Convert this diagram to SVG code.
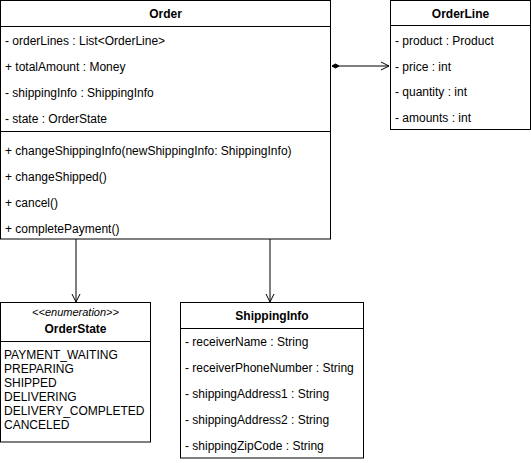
<svg xmlns="http://www.w3.org/2000/svg" width="531" height="463" viewBox="0 0 531 463">
<defs>
<style>
.box{fill:#fff;stroke:#000;stroke-width:1}
.ln{stroke:#000;stroke-width:1;fill:none}
text{font-family:"Liberation Sans",Arial,Helvetica,sans-serif;font-size:12px;fill:#000}
.t{font-weight:bold;text-anchor:middle}
.st{font-style:italic;font-size:11px;text-anchor:middle}
</style>
<marker id="open" markerWidth="10" markerHeight="10" refX="9" refY="5" orient="auto" markerUnits="userSpaceOnUse">
<path d="M1,1 L9,5 L1,9" fill="none" stroke="#000" stroke-width="1"/>
</marker>
<marker id="dia" markerWidth="10" markerHeight="8" refX="1" refY="4" orient="auto" markerUnits="userSpaceOnUse">
<path d="M1,4 L4.5,2 L8,4 L4.5,6 Z" fill="#000" stroke="#000"/>
</marker>
</defs>
<g id="connectors">
<line class="ln" x1="332" y1="66" x2="389" y2="66" marker-start="url(#dia)" marker-end="url(#open)"/>
<line class="ln" x1="76" y1="239" x2="76" y2="302" marker-end="url(#open)"/>
<line class="ln" x1="270" y1="239" x2="270" y2="302" marker-end="url(#open)"/>
</g>
<g id="Order">
<rect class="box" x="0.5" y="0.5" width="330" height="238.5"/>
<line class="ln" x1="0.5" y1="26.5" x2="330.5" y2="26.5"/>
<line class="ln" x1="0.5" y1="131.5" x2="330.5" y2="131.5"/>
<text class="t" x="165.5" y="18">Order</text>
<text x="5" y="45">- orderLines : List&lt;OrderLine&gt;</text>
<text x="5" y="71">+ totalAmount : Money</text>
<text x="5" y="97">- shippingInfo : ShippingInfo</text>
<text x="5" y="123">- state : OrderState</text>
<text x="5" y="155">+ changeShippingInfo(newShippingInfo: ShippingInfo)</text>
<text x="5" y="181">+ changeShipped()</text>
<text x="5" y="207">+ cancel()</text>
<text x="5" y="233">+ completePayment()</text>
</g>
<g id="OrderLine">
<rect class="box" x="390.5" y="0.5" width="140" height="129"/>
<line class="ln" x1="390.5" y1="25.5" x2="530.5" y2="25.5"/>
<text class="t" x="460.5" y="18">OrderLine</text>
<text x="395" y="45">- product : Product</text>
<text x="395" y="71">- price : int</text>
<text x="395" y="96">- quantity : int</text>
<text x="395" y="122">- amounts : int</text>
</g>
<g id="OrderState">
<rect class="box" x="0.5" y="302.5" width="150" height="139.5"/>
<line class="ln" x1="0.5" y1="341.5" x2="150.5" y2="341.5"/>
<text class="st" x="75.5" y="316">&lt;&lt;enumeration&gt;&gt;</text>
<text class="t" x="75.5" y="333">OrderState</text>
<text x="4" y="359">PAYMENT_WAITING</text>
<text x="4" y="373">PREPARING</text>
<text x="4" y="387">SHIPPED</text>
<text x="4" y="401">DELIVERING</text>
<text x="4" y="415">DELIVERY_COMPLETED</text>
<text x="4" y="429">CANCELED</text>
</g>
<g id="ShippingInfo">
<rect class="box" x="180.5" y="302.5" width="183" height="155.5"/>
<line class="ln" x1="180.5" y1="328.5" x2="363.5" y2="328.5"/>
<text class="t" x="272" y="320">ShippingInfo</text>
<text x="185" y="346">- receiverName : String</text>
<text x="185" y="372">- receiverPhoneNumber : String</text>
<text x="185" y="398">- shippingAddress1 : String</text>
<text x="185" y="424">- shippingAddress2 : String</text>
<text x="185" y="450">- shippingZipCode : String</text>
</g>
</svg>
